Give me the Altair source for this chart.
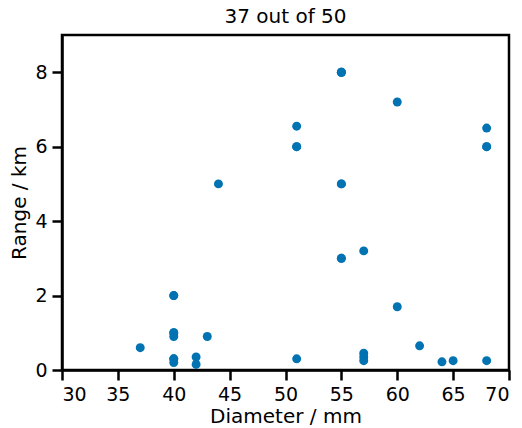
import altair as alt
import pandas as pd

diameter_mm = [37, 40, 40, 40, 40, 40, 42, 42, 43, 44,
               51, 51, 51, 55, 55, 55, 57, 57, 57, 57,
               60, 60, 62, 64, 65, 68, 68, 68,
               55, 55, 40, 55, 68, 40, 40, 55, 51]
range_km = [0.6, 2.0, 1.0, 0.9, 0.3, 0.2, 0.35, 0.15, 0.9, 5.0,
            6.55, 6.0, 0.3, 8.0, 5.0, 3.0, 3.2, 0.45, 0.35, 0.25,
            7.2, 1.7, 0.65, 0.22, 0.25, 6.5, 6.0, 0.25,
            8.0, 8.0, 2.0, 3.0, 6.0, 1.0, 0.3, 5.0, 6.0]

df = pd.DataFrame({"d": diameter_mm, "r": range_km})

FONT = "DejaVu Sans"

chart = alt.Chart(df).mark_circle(size=80, opacity=1, color="#0173b2").encode(
    x=alt.X("d:Q", scale=alt.Scale(domain=[30, 70], nice=False, zero=False),
            axis=alt.Axis(title="Diameter / mm", values=[30, 35, 40, 45, 50, 55, 60, 65, 70],
                          grid=False)),
    y=alt.Y("r:Q", scale=alt.Scale(domain=[0, 9], nice=False),
            axis=alt.Axis(title="Range / km", values=[0, 2, 4, 6, 8], grid=False)),
).properties(
    width=447, height=335,
    title=alt.TitleParams("37 out of 50", font=FONT, fontSize=20, fontWeight="normal",
                          color="black", offset=8),
    autosize=alt.AutoSizeParams(type="none"),
    padding={"left": 62, "top": 35, "right": 13, "bottom": 58},
).configure_view(
    stroke="black", strokeWidth=2.5
).configure_axis(
    domainColor="black", domainWidth=2.5,
    tickColor="black", tickWidth=2.5, tickSize=10,
    labelFont=FONT, labelFontSize=19, labelColor="black", labelPadding=5,
    titleFont=FONT, titleFontSize=20, titleFontWeight="normal", titleColor="black",
).configure_axisX(titlePadding=2).configure_axisY(titlePadding=5)

chart.save("out.html", embed_options={"renderer": "svg", "actions": False})
